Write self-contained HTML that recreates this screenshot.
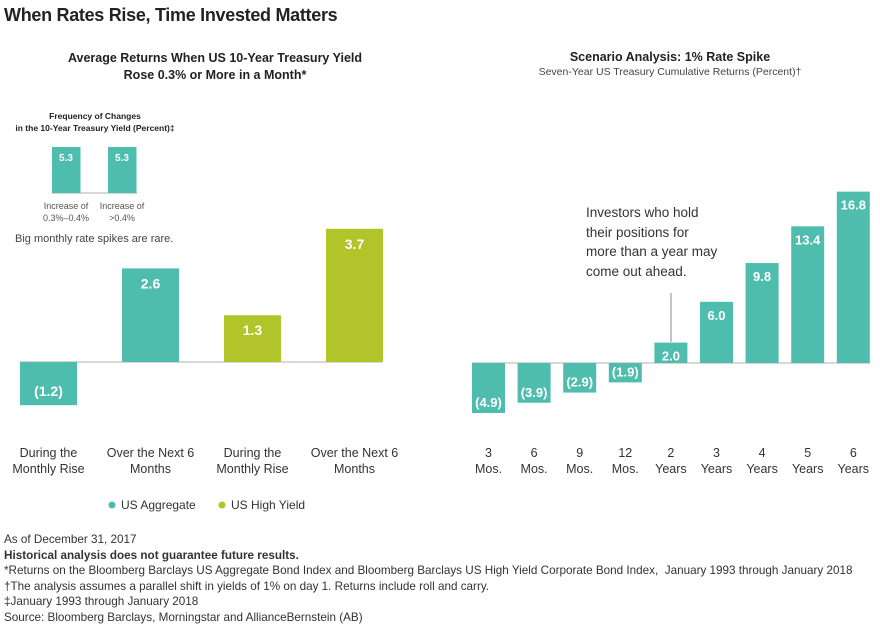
<!DOCTYPE html>
<html><head><meta charset="utf-8"><style>
body{margin:0;width:880px;height:627px;background:#fff;font-family:"Liberation Sans",sans-serif;position:relative;overflow:hidden;color:#222}
.a{position:absolute;white-space:nowrap}
</style></head><body>
<div class="a" style="left:4px;top:5px;font-size:18px;font-weight:bold;letter-spacing:-0.3px">When Rates Rise, Time Invested Matters</div>
<div class="a" style="left:40px;top:50px;width:350px;text-align:center;font-size:12.5px;font-weight:bold;line-height:17px">Average Returns When US 10-Year Treasury Yield<br>Rose 0.3% or More in a Month*</div>
<div class="a" style="left:520px;top:50px;width:300px;text-align:center;font-size:12.5px;font-weight:bold">Scenario Analysis: 1% Rate Spike</div>
<div class="a" style="left:520px;top:66px;width:300px;text-align:center;font-size:10.5px;color:#444">Seven-Year US Treasury Cumulative Returns (Percent)†</div>
<div class="a" style="left:0px;top:110px;width:190px;text-align:center;font-size:8.5px;font-weight:bold;line-height:12px">Frequency of Changes<br>in the 10-Year Treasury Yield (Percent)‡</div>
<div class="a" style="left:15px;top:233px;font-size:11px;color:#444">Big monthly rate spikes are rare.</div>
<div class="a" style="left:586px;top:203px;font-size:13.5px;color:#333;line-height:19.5px">Investors who hold<br>their positions for<br>more than a year may<br>come out ahead.</div>
<svg class="a" style="left:0;top:0" width="880" height="627">
<line x1="671" y1="293" x2="671" y2="342" stroke="#888" stroke-width="1"/>
<g id="inset"></g><g id="left"></g><g id="right"></g>
<circle cx="112" cy="505" r="3.5" fill="#4fbdae"/>
<text x="121" y="509" font-size="12" fill="#333">US Aggregate</text>
<circle cx="222" cy="505" r="3.5" fill="#b1c52a"/>
<text x="231" y="509" font-size="12" fill="#333">US High Yield</text>
</svg>
<div class="a" style="left:4px;top:532px;font-size:11.7px;line-height:15.6px;color:#333">As of December 31, 2017<br><b>Historical analysis does not guarantee future results.</b><br>*Returns on the Bloomberg Barclays US Aggregate Bond Index and Bloomberg Barclays US High Yield Corporate Bond Index,&nbsp; January 1993 through January 2018<br>†The analysis assumes a parallel shift in yields of 1% on day 1. Returns include roll and carry.<br>‡January 1993 through January 2018<br>Source: Bloomberg Barclays, Morningstar and AllianceBernstein (AB)</div>
<script>
const insetValues=[5.3,5.3];
const insetLabels=[["Increase of","0.3%–0.4%"],["Increase of",">0.4%"]];
const leftCats=[["During the","Monthly Rise"],["Over the Next 6","Months"],["During the","Monthly Rise"],["Over the Next 6","Months"]];
const leftValues=[-1.2,2.6,1.3,3.7];
const leftSeries=["agg","agg","hy","hy"];
const rightCats=[["3","Mos."],["6","Mos."],["9","Mos."],["12","Mos."],["2","Years"],["3","Years"],["4","Years"],["5","Years"],["6","Years"]];
const rightValues=[-4.9,-3.9,-2.9,-1.9,2.0,6.0,9.8,13.4,16.8];
const NS="http://www.w3.org/2000/svg";
const col={agg:"#4fbdae",hy:"#b1c52a"};
function fmt(v){return v<0?"("+Math.abs(v).toFixed(1)+")":v.toFixed(1);}
function mk(g,t,a){const e=document.createElementNS(NS,t);for(const k in a)e.setAttribute(k,a[k]);g.appendChild(e);return e;}
(function(){const g=document.getElementById('inset');const y0=193,sc=46/5.3;
mk(g,'line',{x1:52,x2:137,y1:y0,y2:y0,stroke:'#ccc','stroke-width':1.5});
insetValues.forEach((v,i)=>{const x=52+i*56,h=v*sc;
const r=mk(g,'rect',{x:x,y:y0-h,width:28.5,height:h,fill:col.agg});

const t=mk(g,'text',{x:x+14,y:y0-h+14,'text-anchor':'middle','font-size':10,'font-weight':'bold',fill:'#fff'});t.textContent=fmt(v);
insetLabels[i].forEach((s,j)=>{const l=mk(g,'text',{x:x+14,y:y0+16+j*12,'text-anchor':'middle','font-size':9,fill:'#555'});l.textContent=s;});});})();
(function(){const g=document.getElementById('left');const y0=362,sc=36;
mk(g,'line',{x1:20,x2:382,y1:y0,y2:y0,stroke:'#ccc','stroke-width':1.5});
leftValues.forEach((v,i)=>{const x=20+i*102,h=Math.abs(v)*sc,y=v<0?y0:y0-h;
const r=mk(g,'rect',{x:x,y:y,width:57,height:h,fill:col[leftSeries[i]]});

const t=mk(g,'text',{x:x+28.5,y:v<0?y0+h-9:y+20,'text-anchor':'middle','font-size':14,'font-weight':'bold',fill:'#fff'});t.textContent=fmt(v);
leftCats[i].forEach((s,j)=>{const l=mk(g,'text',{x:x+28.5,y:457+j*16,'text-anchor':'middle','font-size':12.5,fill:'#333'});l.textContent=s;});});})();
(function(){const g=document.getElementById('right');const y0=363,sc=10.2;
mk(g,'line',{x1:472,x2:870,y1:y0,y2:y0,stroke:'#ccc','stroke-width':1.5});
rightValues.forEach((v,i)=>{const x=472+i*45.6,h=Math.abs(v)*sc,y=v<0?y0:y0-h;
const r=mk(g,'rect',{x:x,y:y,width:33,height:h,fill:col.agg});

const t=mk(g,'text',{x:x+16.5,y:v<0?y0+h-6:y+18,'text-anchor':'middle','font-size':13,'font-weight':'bold',fill:'#fff'});t.textContent=fmt(v);
rightCats[i].forEach((s,j)=>{const l=mk(g,'text',{x:x+16.5,y:457+j*16,'text-anchor':'middle','font-size':12.5,fill:'#333'});l.textContent=s;});});})();
</script>
</body></html>
